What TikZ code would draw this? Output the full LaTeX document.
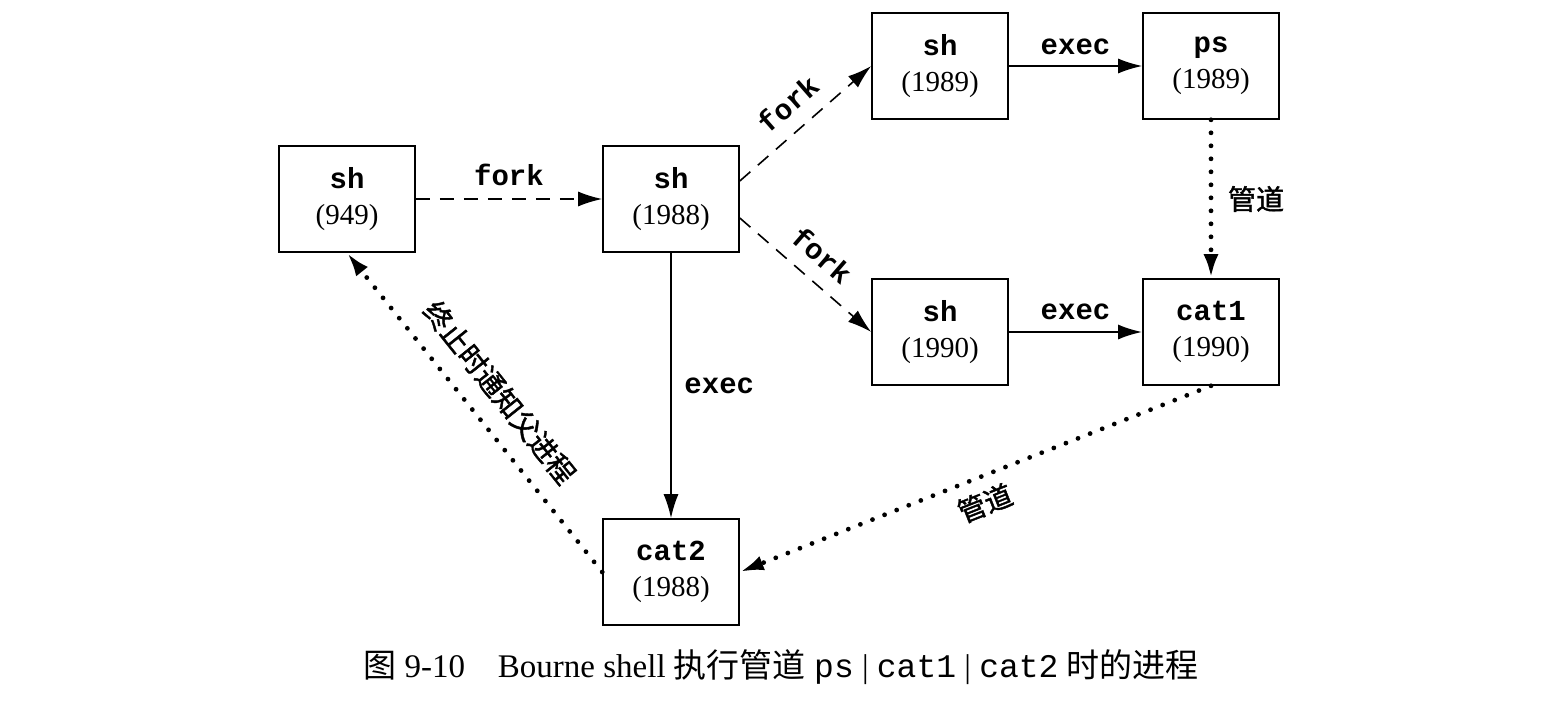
\documentclass[tikz,border=0pt]{standalone}
\usepackage{fontspec}
\setmainfont{Liberation Serif}
\setmonofont{Liberation Mono}
\newfontfamily\cjk{Noto Sans CJK SC}
\newfontfamily\cjkb[FakeBold=1.5]{Noto Sans CJK SC}
\usetikzlibrary{arrows.meta,calc}
\newcommand{\ptext}[2]{\texttt{\bfseries #1}\\(#2)}
\tikzset{
  proc/.style={draw, line width=0.8pt, minimum width=68pt, minimum height=53pt,
    inner sep=0pt, align=center, font=\fontsize{14.5}{18}\selectfont},
  lbl/.style={font=\fontsize{14.5}{18}\selectfont\ttfamily\bfseries},
  clbl/.style={font=\fontsize{14}{16}\selectfont\cjkb},
  tip/.style={-{Latex[length=12pt,width=7.5pt]}},
  forkline/.style={tip, line width=0.8pt, dash pattern=on 7pt off 5pt},
  execline/.style={tip, line width=0.8pt},
  pipeline/.style={tip, line width=2.4pt, line cap=round, dash pattern=on 0pt off 6.5pt}
}
\begin{document}
\begin{tikzpicture}[x=0.5pt,y=-0.5pt]
				\useasboundingbox (0,0) rectangle (1542,702);
				\draw (347,199) node[proc] (A) {\ptext{sh}{949}};
				\draw (671,199) node[proc] (B) {\ptext{sh}{1988}};
				\draw (940,66) node[proc] (C) {\ptext{sh}{1989}};
				\draw (1211,66) node[proc] (D) {\ptext{ps}{1989}};
				\draw (940,332) node[proc] (E) {\ptext{sh}{1990}};
				\draw (1211,332) node[proc] (F) {\ptext{cat1}{1990}};
				\draw (671,572) node[proc] (G) {\ptext{cat2}{1988}};
				\draw (781,667) node (cap) {\fontsize{16.5}{19}\selectfont{\cjk 图} 9-10\quad Bourne shell {\cjk 执行管道} \texttt{ps} | \texttt{cat1} | \texttt{cat2} {\cjk 时的进程}};
		
				\path
				(A) edge[forkline] node[lbl, above=3pt] {fork} (B)
				($(B.east)+(0,-18)$) edge[forkline] node[lbl, sloped, above=4pt] {fork} (C.west)
				($(B.east)+(0,19)$) edge[forkline] node[lbl, sloped, above=4pt] {fork} (E.west)
				(C) edge[execline] node[lbl, above=2pt] {exec} (D)
				(E) edge[execline, line width=1.1pt] node[lbl, above=2pt] {exec} (F)
				(B) edge[execline] node[lbl, right=3pt] {exec} (G)
				(D) edge[pipeline] node[clbl, right=4pt] {管道} (F)
				(F.south) edge[pipeline] node[clbl, sloped, below=2pt] {管道} (G.east)
				(G.west) edge[pipeline] node[clbl, sloped, above=5pt] {终止时通知父进程} (A.south)
				;
			\end{tikzpicture}
\end{document}
